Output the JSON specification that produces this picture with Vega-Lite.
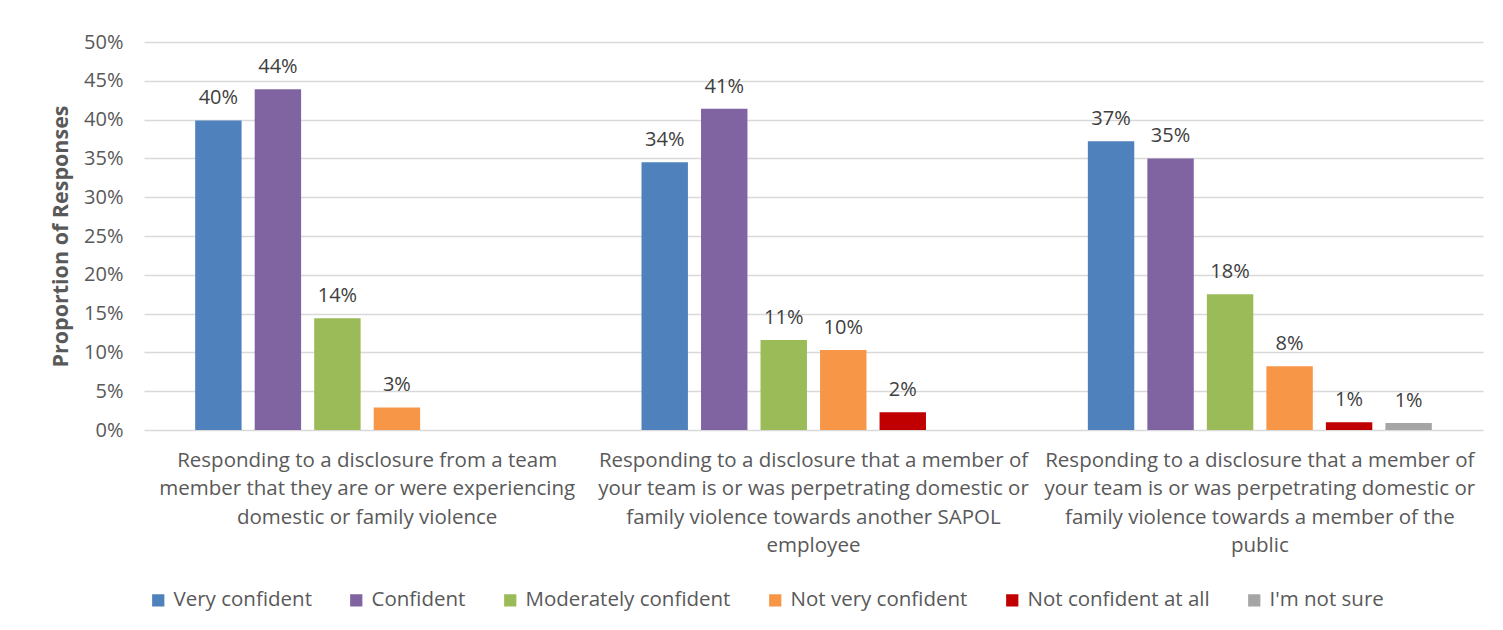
{
  "$schema": "https://vega.github.io/schema/vega-lite/v6.json",
  "width": 1339,
  "height": 388,
  "autosize": {"type": "none"},
  "padding": {"left": 144, "top": 42, "right": 20, "bottom": 200},
  "background": "white",
  "config": {
    "view": {"stroke": null},
    "font": "Open Sans"
  },
  "data": {
    "values": [
      {"category": "Responding to a disclosure from a team member that they are or were experiencing domestic or family violence", "response": "Very confident", "value": 0.399, "label": "40%"},
      {"category": "Responding to a disclosure from a team member that they are or were experiencing domestic or family violence", "response": "Confident", "value": 0.439, "label": "44%"},
      {"category": "Responding to a disclosure from a team member that they are or were experiencing domestic or family violence", "response": "Moderately confident", "value": 0.144, "label": "14%"},
      {"category": "Responding to a disclosure from a team member that they are or were experiencing domestic or family violence", "response": "Not very confident", "value": 0.029, "label": "3%"},
      {"category": "Responding to a disclosure that a member of your team is or was perpetrating domestic or family violence towards another SAPOL employee", "response": "Very confident", "value": 0.345, "label": "34%"},
      {"category": "Responding to a disclosure that a member of your team is or was perpetrating domestic or family violence towards another SAPOL employee", "response": "Confident", "value": 0.414, "label": "41%"},
      {"category": "Responding to a disclosure that a member of your team is or was perpetrating domestic or family violence towards another SAPOL employee", "response": "Moderately confident", "value": 0.116, "label": "11%"},
      {"category": "Responding to a disclosure that a member of your team is or was perpetrating domestic or family violence towards another SAPOL employee", "response": "Not very confident", "value": 0.103, "label": "10%"},
      {"category": "Responding to a disclosure that a member of your team is or was perpetrating domestic or family violence towards another SAPOL employee", "response": "Not confident at all", "value": 0.023, "label": "2%"},
      {"category": "Responding to a disclosure that a member of your team is or was perpetrating domestic or family violence towards a member of the public", "response": "Very confident", "value": 0.372, "label": "37%"},
      {"category": "Responding to a disclosure that a member of your team is or was perpetrating domestic or family violence towards a member of the public", "response": "Confident", "value": 0.350, "label": "35%"},
      {"category": "Responding to a disclosure that a member of your team is or was perpetrating domestic or family violence towards a member of the public", "response": "Moderately confident", "value": 0.175, "label": "18%"},
      {"category": "Responding to a disclosure that a member of your team is or was perpetrating domestic or family violence towards a member of the public", "response": "Not very confident", "value": 0.082, "label": "8%"},
      {"category": "Responding to a disclosure that a member of your team is or was perpetrating domestic or family violence towards a member of the public", "response": "Not confident at all", "value": 0.010, "label": "1%"},
      {"category": "Responding to a disclosure that a member of your team is or was perpetrating domestic or family violence towards a member of the public", "response": "I'm not sure", "value": 0.009, "label": "1%"}
    ]
  },
  "encoding": {
    "x": {
      "field": "category",
      "type": "nominal",
      "sort": null,
      "scale": {"paddingInner": 0.2, "paddingOuter": 0.1},
      "axis": {
        "title": null,
        "labelAngle": 0,
        "domain": false,
        "ticks": false,
        "labelPadding": 20,
        "labelFontSize": 20.5,
        "labelColor": "#595959",
        "labelLineHeight": 28.5,
        "labelLimit": 600,
        "labelExpr": "indexof(datum.value, 'from a team') >= 0 ? ['Responding to a disclosure from a team', 'member that they are or were experiencing', 'domestic or family violence'] : indexof(datum.value, 'SAPOL') >= 0 ? ['Responding to a disclosure that a member of', 'your team is or was perpetrating domestic or', 'family violence towards another SAPOL', 'employee'] : ['Responding to a disclosure that a member of', 'your team is or was perpetrating domestic or', 'family violence towards a member of the', 'public']"
      }
    },
    "xOffset": {
      "field": "response",
      "type": "nominal",
      "scale": {
        "domain": ["Very confident", "Confident", "Moderately confident", "Not very confident", "Not confident at all", "I'm not sure"],
        "paddingInner": 0.22,
        "paddingOuter": 0.11
      }
    },
    "y": {
      "field": "value",
      "type": "quantitative",
      "scale": {"domain": [0, 0.5]},
      "axis": {
        "title": "Proportion of Responses",
        "titleFontSize": 21.5,
        "titleFontWeight": "bold",
        "titleColor": "#595959",
        "titlePadding": 11,
        "values": [0, 0.05, 0.1, 0.15, 0.2, 0.25, 0.3, 0.35, 0.4, 0.45, 0.5],
        "format": ".0%",
        "labelFontSize": 20,
        "labelColor": "#595959",
        "labelPadding": 21,
        "domain": false,
        "ticks": false,
        "gridColor": "#d9d9d9",
        "gridWidth": 1.5
      }
    },
    "color": {
      "field": "response",
      "type": "nominal",
      "scale": {
        "domain": ["Very confident", "Confident", "Moderately confident", "Not very confident", "Not confident at all", "I'm not sure"],
        "range": ["#4F81BD", "#8064A2", "#9BBB59", "#F79646", "#C00000", "#A5A5A5"]
      },
      "legend": {
        "title": null,
        "orient": "none",
        "direction": "horizontal",
        "legendX": 4,
        "legendY": 548,
        "symbolType": "square",
        "symbolSize": 150,
        "symbolStrokeWidth": 0,
        "labelFontSize": 20.5,
        "labelColor": "#595959",
        "labelOffset": 5,
        "columnPadding": 34,
        "labelLimit": 400
      }
    }
  },
  "layer": [
    {"mark": {"type": "bar"}},
    {
      "mark": {"type": "text", "baseline": "bottom", "dy": -12, "fontSize": 20},
      "encoding": {
        "text": {"field": "label"},
        "color": {"value": "#404040"}
      }
    }
  ]
}
